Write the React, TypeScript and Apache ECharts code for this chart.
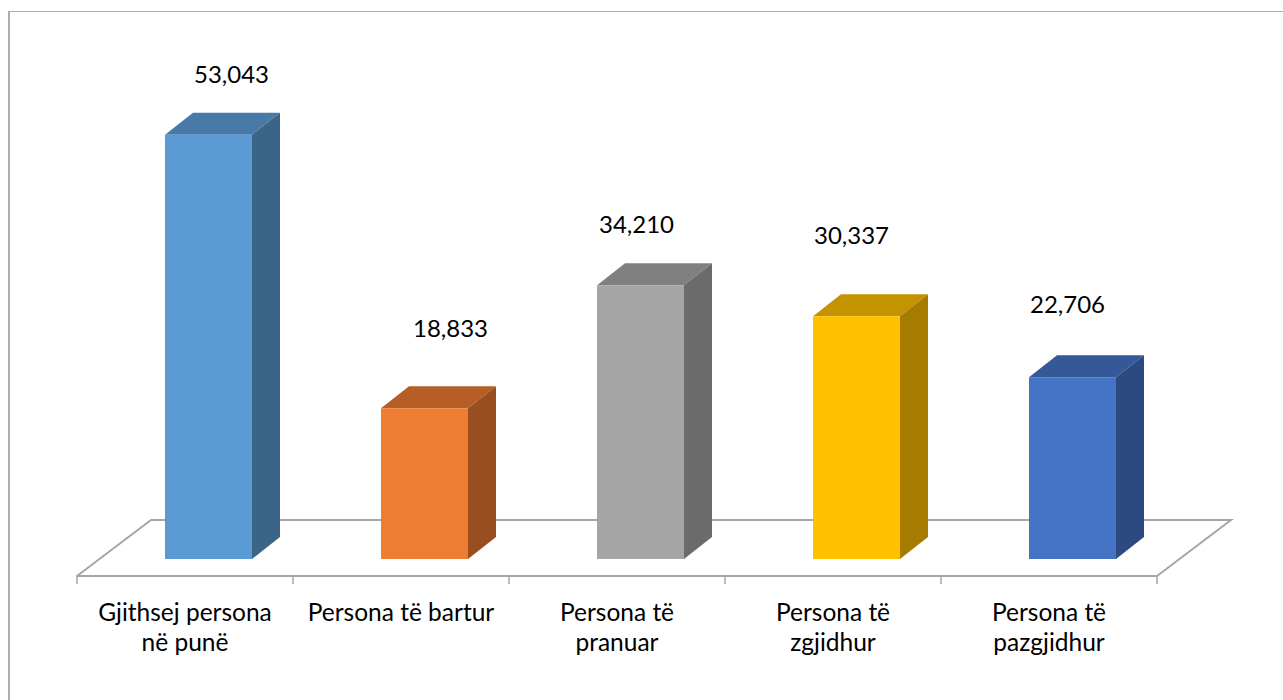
import React, { useEffect, useRef } from "react";
import * as echarts from "echarts";

const categories = [
  "Gjithsej persona\nnë punë",
  "Persona të bartur",
  "Persona të\npranuar",
  "Persona të\nzgjidhur",
  "Persona të\npazgjidhur",
];
const values = [53043, 18833, 34210, 30337, 22706];
const frontColors = ["#5b9bd5", "#ed7d31", "#a5a5a5", "#ffc000", "#4472c4"];
const topColors = ["#487aa8", "#b65e25", "#808080", "#c49300", "#355898"];
const sideColors = ["#3b6489", "#994e1f", "#6b6b6b", "#a67c00", "#2c4a80"];
// label offsets relative to the bar's front-top centre (styling only)
const labelOffsets = [
  [23, -61],
  [26, -81],
  [-4, -62],
  [-5, -82],
  [-5, -74],
];

const FONT = "Lato, 'Open Sans', sans-serif";

export default function App() {
  const ref = useRef<HTMLDivElement>(null);
  useEffect(() => {
    if (!ref.current) return;
    const chart = echarts.init(ref.current, undefined, { renderer: "svg" });
    const depthX = 23.5; // bar placement inside the floor depth
    const depthY = -17;
    const bw = 87;
    const bdx = 28;
    const bdy = -22;
    chart.setOption({
      animation: false,
      backgroundColor: "#ffffff",
      grid: { left: 77, right: 126, top: 96, bottom: 124 },
      xAxis: {
        type: "category",
        data: categories,
        boundaryGap: true,
        axisLine: { show: true, lineStyle: { color: "#a6a6a6", width: 2 } },
        axisTick: { show: true, length: 8, lineStyle: { color: "#a6a6a6", width: 1.5 } },
        axisLabel: {
          interval: 0,
          margin: 20,
          color: "#000000",
          fontFamily: FONT,
          fontSize: 24.5,
          lineHeight: 30,
        },
        splitLine: { show: false },
        z: 3,
      },
      yAxis: { type: "value", min: 0, max: 60000, show: false, splitLine: { show: false } },
      graphic: [
        {
          type: "polyline",
          z: 0,
          shape: { points: [[77, 576], [151, 520], [1231, 520], [1157, 576]] },
          style: { stroke: "#a6a6a6", lineWidth: 2, fill: "none" },
        },
        {
          type: "line",
          z: 0,
          shape: { x1: 9, y1: 11.5, x2: 1290, y2: 11.5 },
          style: { stroke: "#adadad", lineWidth: 1 },
        },
        {
          type: "line",
          z: 0,
          shape: { x1: 9, y1: 11, x2: 9, y2: 710 },
          style: { stroke: "#adadad", lineWidth: 2 },
        },
      ],
      series: [
        {
          type: "custom",
          z: 10,
          clip: false,
          data: values.map((v, i) => [i, v]),
          encode: { x: 0, y: 1 },
          renderItem: (params: any, api: any) => {
            const i = api.value(0);
            const v = api.value(1);
            const p0 = api.coord([i, 0]);
            const p1 = api.coord([i, v]);
            const cx = p0[0] + depthX;
            const xl = cx - bw / 2;
            const xr = cx + bw / 2;
            const yb = p0[1] + depthY;
            const yt = p1[1] + depthY;
            const off = labelOffsets[i];
            return {
              type: "group",
              children: [
                {
                  type: "polygon",
                  shape: { points: [[xl, yt], [xl + bdx, yt + bdy], [xr + bdx, yt + bdy], [xr, yt]] },
                  style: { fill: topColors[i] },
                },
                {
                  type: "polygon",
                  shape: { points: [[xr, yt], [xr + bdx, yt + bdy], [xr + bdx, yb + bdy], [xr, yb]] },
                  style: { fill: sideColors[i] },
                },
                {
                  type: "rect",
                  shape: { x: xl, y: yt, width: bw, height: yb - yt },
                  style: { fill: frontColors[i] },
                },
                {
                  type: "text",
                  x: cx + off[0],
                  y: yt + off[1],
                  style: {
                    text: values[i].toLocaleString("en-US"),
                    fill: "#000000",
                    fontFamily: FONT,
                    fontSize: 24,
                    align: "center",
                    verticalAlign: "middle",
                  },
                },
              ],
            };
          },
        },
      ],
    });
    return () => chart.dispose();
  }, []);
  return (
    <div
      ref={ref}
      style={{ position: "fixed", left: 0, top: 0, width: 1283, height: 700, background: "#fff" }}
    />
  );
}
